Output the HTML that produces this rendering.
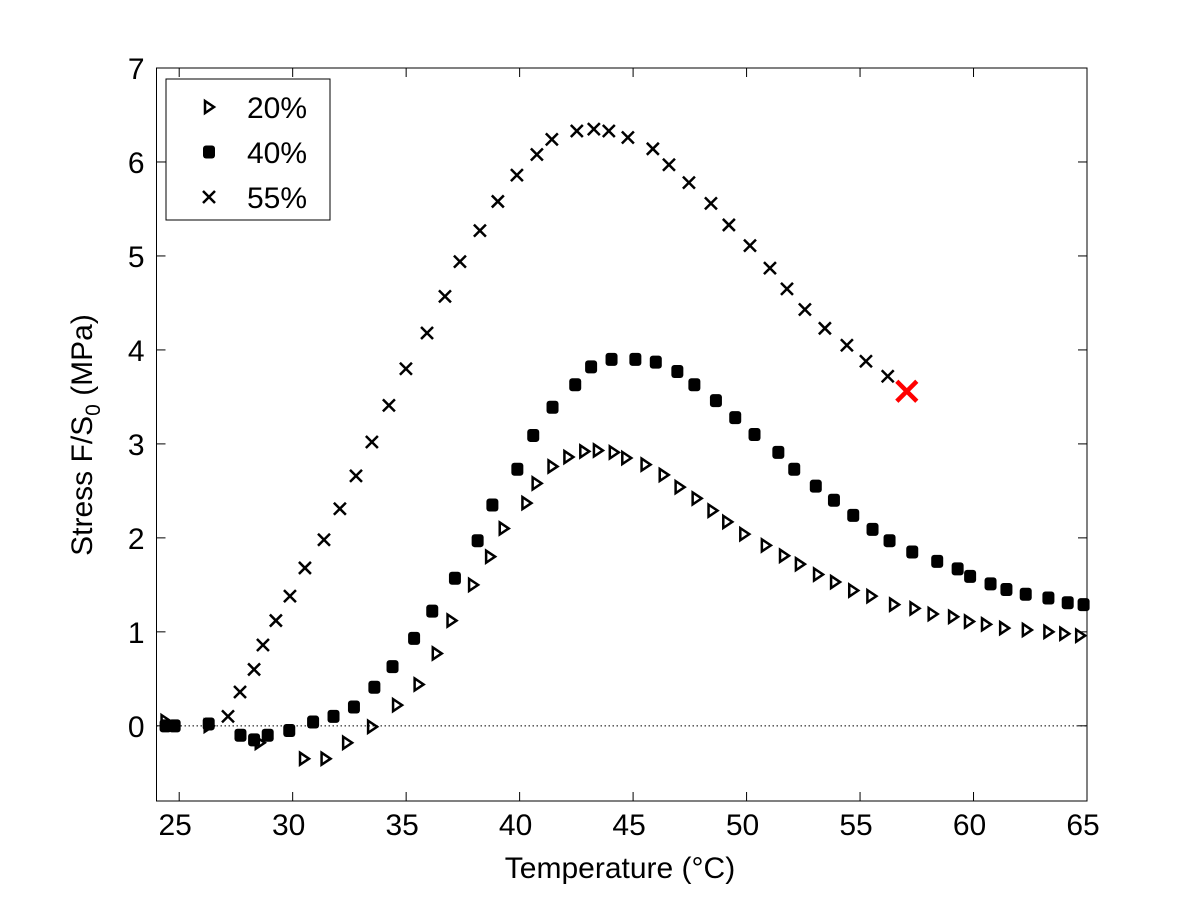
<!DOCTYPE html>
<html><head><meta charset="utf-8"><style>
body{margin:0;background:#fff;}
svg{display:block;font-family:"Liberation Sans",Arial,sans-serif;}
</style></head><body>
<svg id="chart" width="1201" height="901" viewBox="0 0 1201 901">
<rect x="0" y="0" width="1201" height="901" fill="#fff"/>
<g id="plot"></g>
</svg>
<script>
const xTicks=[25,30,35,40,45,50,55,60,65];
const yTicks=[0,1,2,3,4,5,6,7];
const x20=[24.4,26.3,28.55,30.5,31.45,32.4,33.5,34.6,35.55,36.35,37.0,37.95,38.7,39.3,40.3,40.75,41.45,42.15,42.85,43.45,44.15,44.7,45.55,46.35,47.05,47.8,48.5,49.15,49.9,50.85,51.65,52.35,53.15,53.9,54.7,55.5,56.5,57.4,58.2,59.1,59.8,60.55,61.35,62.35,63.3,64.0,64.7];
const y20=[0.05,0,-0.18,-0.35,-0.35,-0.18,-0.01,0.22,0.44,0.77,1.12,1.5,1.8,2.1,2.37,2.58,2.76,2.86,2.92,2.93,2.91,2.85,2.78,2.67,2.54,2.42,2.29,2.17,2.04,1.92,1.81,1.72,1.61,1.53,1.44,1.38,1.29,1.25,1.19,1.16,1.11,1.08,1.04,1.02,1.0,0.98,0.96];
const x40=[24.4,24.8,26.3,27.7,28.3,28.9,29.85,30.9,31.8,32.7,33.6,34.4,35.35,36.15,37.15,38.15,38.8,39.9,40.6,41.45,42.45,43.15,44.05,45.1,46.0,46.95,47.7,48.65,49.5,50.35,51.4,52.1,53.05,53.85,54.7,55.55,56.3,57.3,58.4,59.3,59.85,60.75,61.45,62.3,63.3,64.15,64.85];
const y40=[0,0,0.02,-0.1,-0.15,-0.1,-0.05,0.04,0.1,0.2,0.41,0.63,0.93,1.22,1.57,1.97,2.35,2.73,3.09,3.39,3.63,3.82,3.9,3.9,3.87,3.77,3.63,3.46,3.28,3.1,2.91,2.73,2.55,2.4,2.24,2.09,1.97,1.85,1.75,1.67,1.59,1.51,1.45,1.4,1.36,1.31,1.29];
const x55=[27.15,27.68,28.3,28.69,29.26,29.88,30.54,31.38,32.08,32.79,33.49,34.24,34.99,35.92,36.71,37.37,38.25,39.04,39.88,40.76,41.42,42.52,43.27,43.93,44.77,45.87,46.58,47.46,48.43,49.22,50.15,51.03,51.78,52.57,53.45,54.42,55.26,56.22];
const y55=[0.1,0.36,0.6,0.86,1.12,1.38,1.68,1.98,2.31,2.66,3.02,3.41,3.8,4.18,4.57,4.94,5.27,5.58,5.86,6.08,6.24,6.33,6.35,6.33,6.26,6.14,5.97,5.78,5.56,5.33,5.11,4.87,4.65,4.43,4.23,4.05,3.88,3.72];
const failX=[57.06];
const failY=[3.56];

const L=156.5,R=1087,T=68,B=801,XMIN=24,XMAX=65,YMIN=-0.8,YMAX=7;
const sx=v=>L+(v-XMIN)/(XMAX-XMIN)*(R-L);
const sy=v=>B-(v-YMIN)/(YMAX-YMIN)*(B-T);
const NS='http://www.w3.org/2000/svg';
const g=document.getElementById('plot');
function mk(tag,attrs,parent){const e=document.createElementNS(NS,tag);for(const k in attrs)e.setAttribute(k,attrs[k]);(parent||g).appendChild(e);return e;}

// axes box
let box=mk('rect',{x:L,y:T,width:R-L,height:B-T,fill:'none',stroke:'#000','stroke-width':1});


// zero line
let zl=mk('line',{x1:L,x2:R,y1:sy(0),y2:sy(0),stroke:'#000','stroke-width':1,'stroke-dasharray':'1.5,2.5'});



xTicks.forEach(t=>{
  const x=sx(t);
  let a=mk('line',{x1:x,x2:x,y1:B,y2:B-9,stroke:'#000'});
  
  
  let b=mk('line',{x1:x,x2:x,y1:T,y2:T+9,stroke:'#000'});
  
  
  let tx=mk('text',{x:x-4,y:B+34,'font-size':30,'text-anchor':'middle'});
  tx.textContent=t;
  
  
});
yTicks.forEach(t=>{
  const y=sy(t);
  let a=mk('line',{x1:L,x2:L+9,y1:y,y2:y,stroke:'#000'});
  
  
  let b=mk('line',{x1:R,x2:R-9,y1:y,y2:y,stroke:'#000'});
  
  
  let tx=mk('text',{x:L-12,y:y+11,'font-size':30,'text-anchor':'end'});
  tx.textContent=t;
  
  
});

function tri(cx,cy,parent){return mk('path',{d:`M${cx-4},${cy-6} L${cx+5},${cy} L${cx-4},${cy+6} Z`,fill:'none',stroke:'#000','stroke-width':2.5},parent);}
function sq(cx,cy,parent){return mk('rect',{x:cx-6,y:cy-6.5,width:12,height:13,rx:3,fill:'#000'},parent);}
function cross(cx,cy,s,col,w,parent){return mk('path',{d:`M${cx-s},${cy-s} L${cx+s},${cy+s} M${cx-s},${cy+s} L${cx+s},${cy-s}`,stroke:col,'stroke-width':w,fill:'none'},parent);}

x20.forEach((v,i)=>{let m=tri(sx(v),sy(y20[i]));});
x40.forEach((v,i)=>{let m=sq(sx(v),sy(y40[i]));});
x55.forEach((v,i)=>{let m=cross(sx(v),sy(y55[i]),6,'#000',2.5);});
failX.forEach((v,i)=>{let m=cross(sx(v),sy(failY[i]),10,'#f00',4.5);});

// legend
const lg=mk('g',{});


mk('rect',{x:166,y:79,width:164,height:141,fill:'#fff',stroke:'#000'},lg);
const labels=['20%','40%','55%'];
labels.forEach((lab,i)=>{
  const y=107+i*45;
  const e=mk('g',{},lg);
  
  
  if(i===0)tri(209,y,e);else if(i===1)sq(209,y,e);else cross(209,y,6,'#000',2.5,e);
  const t=mk('text',{x:247,y:y+11,'font-size':30},e);
  t.textContent=lab;
});

let xt=mk('text',{x:620,y:878,'font-size':30,'text-anchor':'middle'});
xt.textContent='Temperature (°C)';


let yt=mk('text',{x:0,y:0,'font-size':30,'text-anchor':'middle',transform:'translate(92,435) rotate(-90)'});
yt.innerHTML='Stress F/S<tspan font-size="21" dy="8">0</tspan><tspan dy="-8"> (MPa)</tspan>';


</script>
</body></html>
